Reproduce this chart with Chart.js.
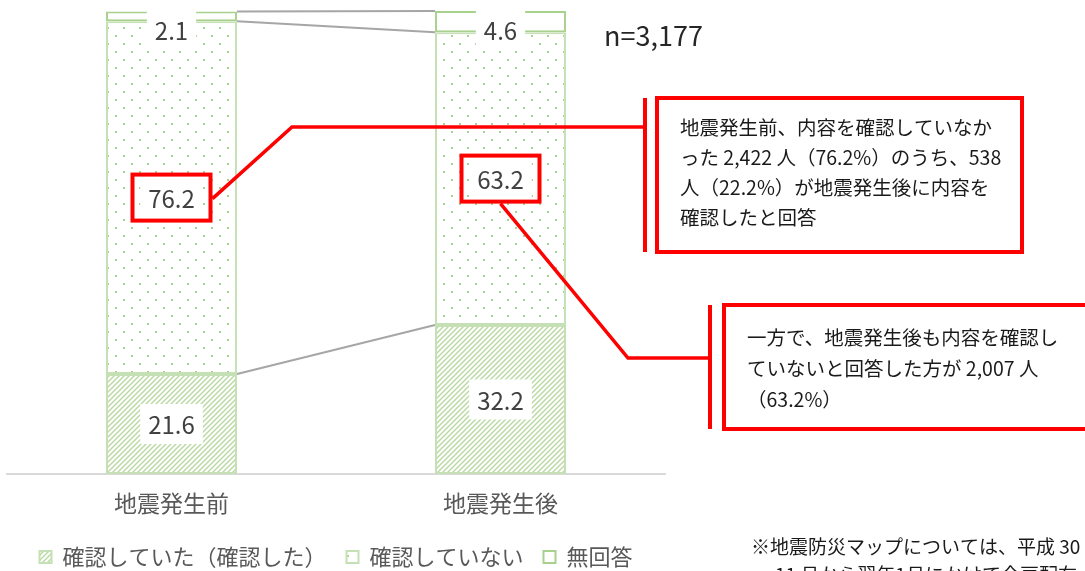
<!DOCTYPE html>
<html lang="ja">
<head>
<meta charset="utf-8">
<title>地震防災マップ 内容確認</title>
<script src="https://cdn.jsdelivr.net/npm/chart.js@4.4.1/dist/chart.umd.min.js"></script>
<style>
  html, body { margin: 0; padding: 0; background: #fff; }
  #wrap { width: 1085px; height: 571px; overflow: hidden; }
</style>
</head>
<body>
<div id="wrap"><canvas id="chart" width="1085" height="571"></canvas></div>
<script>
const categories = ["地震発生前", "地震発生後"];
const seriesNames = ["確認していた（確認した）", "確認していない", "無回答"];
const checkedValues = [21.6, 32.2];
const notCheckedValues = [76.2, 63.2];
const noAnswerValues = [2.1, 4.6];
const sampleSize = "n=3,177";

const noteBefore = [
  "地震発生前、内容を確認していなか",
  "った 2,422 人（76.2%）のうち、538",
  "人（22.2%）が地震発生後に内容を",
  "確認したと回答",
];
const noteAfter = [
  "一方で、地震発生後も内容を確認し",
  "ていないと回答した方が 2,007 人",
  "（63.2%）",
];
const footnote = [
  "※地震防災マップについては、平成 30 年",
  "11 月から翌年1月にかけて全戸配布",
];

const FONT = '"Noto Sans CJK JP", "Noto Sans", sans-serif';
const GREEN_LIGHT = "#c5e0b4";
const GREEN = "#a9d18e";

// diagonal hatch fill
function hatchPattern() {
  const c = document.createElement("canvas");
  c.width = 5; c.height = 5;
  const g = c.getContext("2d");
  g.fillStyle = "#fff";
  g.fillRect(0, 0, 5, 5);
  g.strokeStyle = "#b7d99f";
  g.lineWidth = 1.4;
  g.beginPath();
  g.moveTo(-1, 6); g.lineTo(6, -1);
  g.moveTo(-1, 1); g.lineTo(1, -1);
  g.moveTo(4, 6); g.lineTo(6, 4);
  g.stroke();
  return g.createPattern(c, "repeat");
}

// staggered dot fill
function dotPattern() {
  const c = document.createElement("canvas");
  c.width = 16; c.height = 16;
  const g = c.getContext("2d");
  g.fillStyle = "#fff";
  g.fillRect(0, 0, 16, 16);
  g.fillStyle = GREEN;
  g.fillRect(3, 3, 2, 2);
  g.fillRect(11, 11, 2, 2);
  return g.createPattern(c, "repeat");
}

function labelCenter(el, area) {
  const h = 40;
  let cy = (el.y + el.base) / 2;
  cy = Math.max(cy, area.top + h / 2 - 1);
  return { x: el.x, y: cy };
}

// grey lines joining the top of each series across the two bars
const seriesLines = {
  id: "seriesLines",
  beforeDatasetsDraw(chart) {
    const ctx = chart.ctx;
    ctx.save();
    ctx.strokeStyle = "#a6a6a6";
    ctx.lineWidth = 2;
    chart.data.datasets.forEach((ds, i) => {
      const els = chart.getDatasetMeta(i).data;
      const a = els[0], b = els[1];
      ctx.beginPath();
      ctx.moveTo(a.x + a.width / 2, a.y);
      ctx.lineTo(b.x - b.width / 2, b.y);
      ctx.stroke();
    });
    ctx.restore();
  },
};

// value labels on white boxes, the "not checked" ones framed in red
const valueLabels = {
  id: "valueLabels",
  afterDatasetsDraw(chart) {
    const ctx = chart.ctx;
    const area = chart.chartArea;
    ctx.save();
    ctx.font = `24px ${FONT}`;
    ctx.textAlign = "center";
    ctx.textBaseline = "middle";
    chart.data.datasets.forEach((ds, i) => {
      chart.getDatasetMeta(i).data.forEach((el, j) => {
        const txt = ds.data[j].toFixed(1);
        const p = labelCenter(el, area);
        const w = ctx.measureText(txt).width + 16;
        ctx.fillStyle = "#fff";
        ctx.fillRect(p.x - w / 2, p.y - 20, w, 40);
        ctx.fillStyle = "#404040";
        ctx.fillText(txt, p.x, p.y + 1);
        if (i === 1) {
          ctx.strokeStyle = "#ff0000";
          ctx.lineWidth = 4;
          ctx.strokeRect(p.x - 39, p.y - 23, 78, 46);
        }
      });
    });
    ctx.restore();
  },
};

function drawNote(ctx, box, barX, lines, textX, firstY, gap) {
  ctx.strokeStyle = "#ff0000";
  ctx.lineWidth = 4;
  ctx.strokeRect(box.x, box.y, box.w, box.h);
  ctx.beginPath();
  ctx.moveTo(barX, box.y);
  ctx.lineTo(barX, box.y + box.h);
  ctx.stroke();
  ctx.fillStyle = "#1a1a1a";
  ctx.font = `19.5px ${FONT}`;
  ctx.textAlign = "left";
  ctx.textBaseline = "middle";
  lines.forEach((t, k) => ctx.fillText(t, textX, firstY + k * gap));
}

// callout boxes, leaders, sample size and footnote
const callouts = {
  id: "callouts",
  afterDraw(chart) {
    const ctx = chart.ctx;
    const area = chart.chartArea;
    const m = chart.getDatasetMeta(1).data;
    const p0 = labelCenter(m[0], area);
    const p1 = labelCenter(m[1], area);
    ctx.save();
    ctx.strokeStyle = "#ff0000";
    ctx.lineWidth = 3.5;
    ctx.lineJoin = "miter";
    ctx.beginPath();
    ctx.moveTo(p0.x + 41, p0.y + 1);
    ctx.lineTo(292, 127);
    ctx.lineTo(645, 127);
    ctx.stroke();
    ctx.beginPath();
    ctx.moveTo(p1.x, p1.y + 25);
    ctx.lineTo(628, 358);
    ctx.lineTo(710, 358);
    ctx.stroke();

    drawNote(ctx, { x: 657, y: 98, w: 365, h: 154 }, 645, noteBefore, 680, 128, 30);
    drawNote(ctx, { x: 724, y: 305, w: 380, h: 124 }, 710, noteAfter, 747, 338, 31);

    ctx.fillStyle = "#262626";
    ctx.font = `27px ${FONT}`;
    ctx.textAlign = "left";
    ctx.textBaseline = "middle";
    ctx.fillText(sampleSize, 604, 36);

    ctx.fillStyle = "#1a1a1a";
    ctx.font = `19px ${FONT}`;
    ctx.fillText(footnote[0], 751, 547);
    ctx.fillText(footnote[1], 775, 575);
    ctx.restore();
  },
};

new Chart(document.getElementById("chart"), {
  type: "bar",
  data: {
    labels: categories,
    datasets: [
      {
        label: seriesNames[0],
        data: checkedValues,
        backgroundColor: hatchPattern(),
        borderColor: GREEN_LIGHT,
      },
      {
        label: seriesNames[1],
        data: notCheckedValues,
        backgroundColor: dotPattern(),
        borderColor: GREEN_LIGHT,
      },
      {
        label: seriesNames[2],
        data: noAnswerValues,
        backgroundColor: "#fff",
        borderColor: GREEN,
      },
    ].map((d) => ({
      ...d,
      borderWidth: 2,
      borderSkipped: false,
      barPercentage: 0.398,
      categoryPercentage: 1,
    })),
  },
  options: {
    responsive: false,
    animation: false,
    layout: { padding: { left: 7, right: 420, top: 11, bottom: -7 } },
    scales: {
      x: {
        stacked: true,
        grid: { display: false, drawTicks: false },
        border: { display: true, color: "#d9d9d9", width: 2 },
        ticks: { color: "#595959", font: { family: FONT, size: 23 }, padding: 15 },
        afterFit(scale) { scale.height = 52; },
      },
      y: { stacked: true, display: false, min: 0, max: 100 },
    },
    plugins: {
      legend: {
        position: "bottom",
        labels: {
          boxWidth: 12,
          boxHeight: 12,
          color: "#595959",
          font: { family: FONT, size: 22 },
          padding: 20,
        },
      },
      tooltip: { enabled: false },
    },
  },
  plugins: [seriesLines, valueLabels, callouts],
});
</script>
</body>
</html>
